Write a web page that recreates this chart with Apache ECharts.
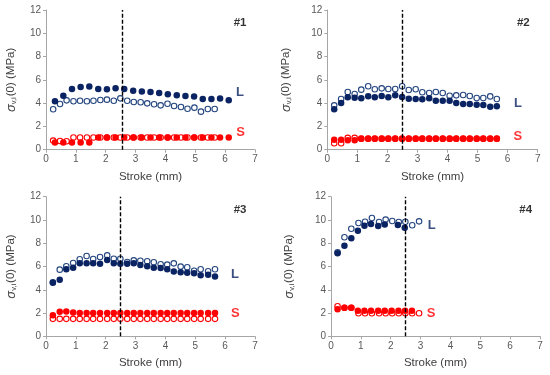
<!DOCTYPE html>
<html>
<head>
<meta charset="utf-8">
<script src="https://cdn.jsdelivr.net/npm/echarts@6/dist/echarts.min.js"></script>
<style>html,body{margin:0;padding:0;background:#fff}#c{width:550px;height:375px}</style>
</head>
<body>
<div id="c"></div>
<script>
// ---- Data ----
const xTicks = [0, 1, 2, 3, 4, 5, 6, 7];
const yTicks = [0, 2, 4, 6, 8, 10, 12];
const panelNames = ['#1', '#2', '#3', '#4'];
const dashedX = [2.55, 2.5, 2.5, 2.5];

// Panel 1
const p1xOpen = [0.24,0.47,0.69,0.92,1.14,1.37,1.59,1.82,2.04,2.27,2.49,2.72,2.94,3.17,3.39,3.62,3.84,4.07,4.29,4.52,4.74,4.97,5.19,5.42,5.65];
const p1LOpen = [3.47,3.93,4.24,4.16,4.21,4.16,4.21,4.27,4.30,4.21,4.41,4.21,4.10,4.07,3.98,3.90,3.81,3.95,3.75,3.67,3.52,3.61,3.27,3.50,3.50];
const p1SOpen = [0.78,0.75,0.72,1.05,1.05,1.05,1.05,1.05,1.05,1.05,1.05,1.05,1.05,1.05,1.05,1.05,1.05,1.05,1.05,1.05,1.05,1.05,1.05,1.05,1.05];
const p1xFilled = [0.30,0.58,0.87,1.16,1.45,1.75,2.04,2.33,2.62,2.92,3.21,3.50,3.79,4.08,4.38,4.67,4.96,5.25,5.54,5.83,6.12];
const p1LFilled = [4.16,4.64,5.21,5.39,5.42,5.21,5.20,5.27,5.21,5.07,5.01,4.96,4.87,4.76,4.67,4.61,4.56,4.36,4.36,4.40,4.24];
const p1SFilled = [0.62,0.62,0.62,0.62,0.62,1.05,1.05,1.05,1.05,1.05,1.05,1.05,1.05,1.05,1.05,1.05,1.05,1.05,1.05,1.05,1.05];

// Panel 2
const p2x = [0.23,0.46,0.68,0.91,1.13,1.36,1.58,1.81,2.03,2.26,2.49,2.71,2.94,3.16,3.39,3.61,3.84,4.07,4.29,4.52,4.74,4.97,5.19,5.42,5.64];
const p2LOpen = [3.81,4.36,4.96,4.79,5.16,5.45,5.19,5.27,5.22,5.22,5.45,5.13,5.19,4.93,4.87,4.96,4.87,4.64,4.67,4.70,4.61,4.44,4.44,4.58,4.36];
const p2LFilled = [3.47,4.01,4.50,4.47,4.41,4.59,4.50,4.61,4.50,4.67,4.53,4.38,4.36,4.33,4.41,4.21,4.21,4.21,4.01,3.93,3.93,3.87,3.84,3.70,3.73];
const p2SOpen = [0.55,0.55,1.02,1.02,0.95,0.95,0.95,0.95,0.95,0.95,0.95,0.95,0.95,0.95,0.95,0.95,0.95,0.95,0.95,0.95,0.95,0.95,0.95,0.95,0.95];
const p2SFilled = [0.85,0.85,0.82,0.82,0.95,0.95,0.95,0.95,0.95,0.95,0.95,0.95,0.95,0.95,0.95,0.95,0.95,0.95,0.95,0.95,0.95,0.95,0.95,0.95,0.95];

// Panel 3
const p3x = [0.23,0.46,0.68,0.91,1.13,1.36,1.58,1.81,2.05,2.27,2.49,2.72,2.94,3.16,3.39,3.61,3.84,4.06,4.28,4.51,4.73,4.96,5.18,5.43,5.66];
const p3LOpen = [4.64,5.73,6.02,6.30,6.62,6.90,6.65,6.82,6.96,6.67,6.67,6.39,6.53,6.50,6.45,6.36,6.19,6.16,6.27,5.99,5.93,5.64,5.76,5.59,5.76];
const p3LFilled = [4.61,4.87,5.76,5.90,6.27,6.27,6.27,6.24,6.56,6.27,6.24,6.24,6.27,6.13,6.02,5.90,5.87,5.76,5.56,5.50,5.47,5.42,5.24,5.30,5.13];
const p3SOpen = [1.5,1.5,1.5,1.5,1.5,1.5,1.5,1.5,1.5,1.5,1.5,1.5,1.5,1.5,1.5,1.5,1.5,1.5,1.5,1.5,1.5,1.5,1.5,1.5,1.5];
const p3SFilled = [1.80,2.12,2.14,2.05,2.0,2.0,2.0,2.0,2.0,2.0,2.0,2.0,2.0,2.0,2.0,2.0,2.0,2.0,2.0,2.0,2.0,2.0,2.0,2.0,2.0];

// Panel 4
const p4xOpen = [0.22,0.45,0.68,0.92,1.14,1.37,1.61,1.83,2.05,2.27,2.49,2.72,2.95];
const p4LOpen = [7.22,8.51,9.25,9.74,9.85,10.17,9.83,10.03,9.91,9.83,9.85,9.54,9.88];
const p4SOpen = [2.58,2.46,2.46,1.98,1.98,1.98,1.98,1.98,1.98,1.98,1.98,1.98,1.98];
const p4xLFilled = [0.22,0.45,0.68,0.90,1.12,1.34,1.58,1.80,2.24,2.47];
const p4LFilled = [7.13,7.79,8.42,9.08,9.51,9.65,9.48,9.60,9.57,9.34];
const p4xSFilled = [0.22,0.45,0.68,0.90,1.12,1.34,1.58,1.80,2.03,2.26,2.48,2.71];
const p4SFilled = [2.32,2.46,2.46,2.20,2.20,2.20,2.20,2.20,2.20,2.20,2.20,2.20];

// Label positions (data coordinates)
const tagPos = [[6.5,10.86],[6.52,10.86],[6.5,10.86],[6.52,10.86]];
const lPos = [[6.5,4.9],[6.34,3.98],[6.33,5.33],[3.37,9.57]];
const sPos = [[6.52,1.52],[6.34,1.17],[6.34,2.0],[3.35,2.0]];

// ---- Styles ----
const NAVY = '#0a2362';
const NAVY_OPEN = '#24457f';
const RED = '#ff0000';
const FONT = 'Liberation Sans, Arial, sans-serif';

const grids = [
  {left: 46, top: 10, width: 209, height: 139.7},
  {left: 327.3, top: 10, width: 210.4, height: 139.7},
  {left: 46, top: 196.7, width: 209, height: 139.6},
  {left: 331, top: 196.7, width: 209, height: 139.6}
];
const yNameGap = [28, 34, 28, 35];

function zip(xs, ys) { return xs.map((x, i) => [x, ys[i]]); }

const xAxes = [], yAxes = [], series = [];
grids.forEach((g, i) => {
  xAxes.push({
    gridIndex: i, type: 'value', min: xTicks[0], max: xTicks[xTicks.length - 1], interval: 1,
    name: 'Stroke (mm)', nameLocation: 'middle', nameGap: 21,
    nameTextStyle: {fontSize: 11.5, color: '#404040', fontFamily: FONT},
    axisLine: {onZero: false, lineStyle: {color: '#a6a6a6', width: 1}},
    axisTick: {show: true, length: 3, lineStyle: {color: '#a6a6a6'}},
    axisLabel: {fontSize: 10, color: '#595959', fontFamily: FONT, margin: 5},
    splitLine: {show: false}
  });
  yAxes.push({
    gridIndex: i, type: 'value', min: yTicks[0], max: yTicks[yTicks.length - 1], interval: 2,
    name: '{s|σ}{sub|v,i}{n|(0) (MPa)}', nameLocation: 'middle', nameGap: yNameGap[i], nameRotate: 90,
    nameTextStyle: {
      color: '#404040', fontFamily: FONT,
      rich: {
        s: {fontSize: 13, fontStyle: 'italic', color: '#404040', fontFamily: FONT},
        sub: {fontSize: 7.5, color: '#404040', fontFamily: FONT, verticalAlign: 'bottom', padding: [6, 1, 0, 0]},
        n: {fontSize: 11.5, color: '#404040', fontFamily: FONT}
      }
    },
    axisLine: {show: true, lineStyle: {color: '#a6a6a6', width: 1}},
    axisTick: {show: true, length: 3, lineStyle: {color: '#a6a6a6'}},
    axisLabel: {fontSize: 10, color: '#595959', fontFamily: FONT, margin: 5},
    splitLine: {show: false}
  });
});

function openSeries(i, data, color) {
  return {type: 'scatter', xAxisIndex: i, yAxisIndex: i, data, symbol: 'circle', symbolSize: 5.5,
    itemStyle: {color: '#ffffff', borderColor: color, borderWidth: 1.1, opacity: 1}, z: 3, silent: true};
}
function filledSeries(i, data, color) {
  return {type: 'scatter', xAxisIndex: i, yAxisIndex: i, data, symbol: 'circle', symbolSize: 6.5,
    itemStyle: {color: color, opacity: 1}, z: 4, silent: true};
}
function textSeries(i, pos, text, color, size) {
  return {type: 'scatter', xAxisIndex: i, yAxisIndex: i, data: [pos], symbolSize: 0, silent: true, z: 6,
    label: {show: true, position: 'inside', formatter: text, color, fontSize: size, fontWeight: 'bold', fontFamily: FONT}};
}

const panels = [
  {LO: zip(p1xOpen, p1LOpen), SO: zip(p1xOpen, p1SOpen), LF: zip(p1xFilled, p1LFilled), SF: zip(p1xFilled, p1SFilled)},
  {LO: zip(p2x, p2LOpen), SO: zip(p2x, p2SOpen), LF: zip(p2x, p2LFilled), SF: zip(p2x, p2SFilled)},
  {LO: zip(p3x, p3LOpen), SO: zip(p3x, p3SOpen), LF: zip(p3x, p3LFilled), SF: zip(p3x, p3SFilled)},
  {LO: zip(p4xOpen, p4LOpen), SO: zip(p4xOpen, p4SOpen), LF: zip(p4xLFilled, p4LFilled), SF: zip(p4xSFilled, p4SFilled)}
];

panels.forEach((p, i) => {
  series.push(openSeries(i, p.LO, NAVY_OPEN));
  series.push(openSeries(i, p.SO, RED));
  series.push(filledSeries(i, p.LF, NAVY));
  const sf = filledSeries(i, p.SF, RED);
  sf.markLine = {
    silent: true, symbol: ['none', 'none'], animation: false,
    label: {show: false},
    lineStyle: {color: '#000000', type: [4, 2], width: 1.4, opacity: 1},
    data: [[{coord: [dashedX[i], yTicks[0]]}, {coord: [dashedX[i], yTicks[yTicks.length - 1]]}]]
  };
  series.push(sf);
  series.push(textSeries(i, tagPos[i], panelNames[i], '#000000', 11.5));
  series.push(textSeries(i, lPos[i], 'L', NAVY, 13));
  series.push(textSeries(i, sPos[i], 'S', RED, 13));
});

const chart = echarts.init(document.getElementById('c'), null, {renderer: 'canvas'});
chart.setOption({
  animation: false,
  backgroundColor: '#ffffff',
  grid: grids,
  xAxis: xAxes,
  yAxis: yAxes,
  series
});
</script>
</body>
</html>
